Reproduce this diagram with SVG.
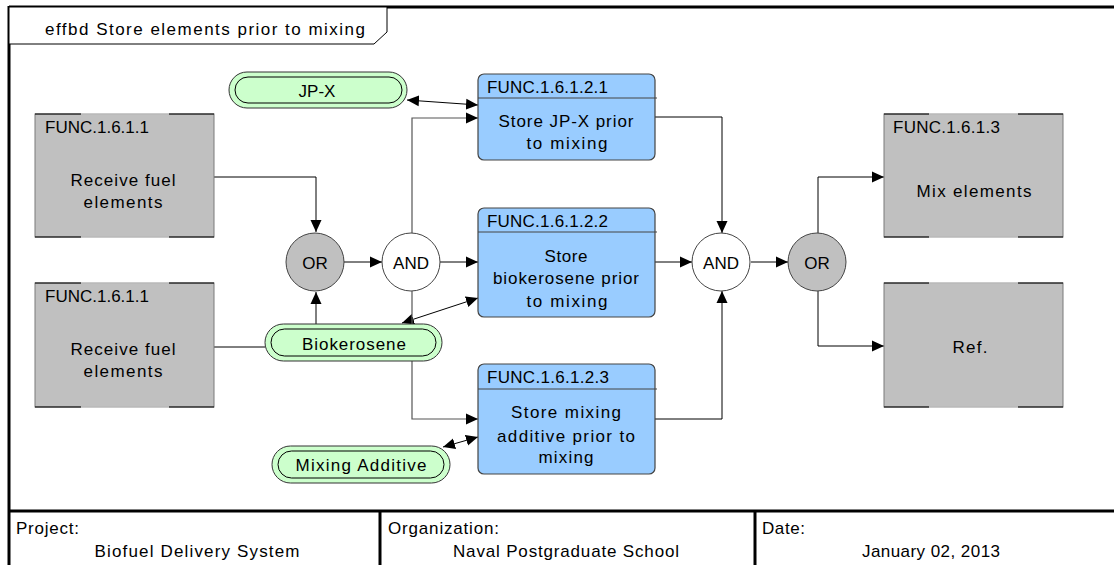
<svg xmlns="http://www.w3.org/2000/svg" width="1114" height="565" viewBox="0 0 1114 565">
<style>
text{font-family:"Liberation Sans",Arial,sans-serif;font-size:17px;fill:#000}
.c{text-anchor:middle}
.gray{fill:#c0c0c0;stroke:#7a7a7a;stroke-width:1}
.corner{stroke:#000;stroke-width:1.2;fill:none}
.light{stroke:#d8d8d8;stroke-width:1.2}
.blue{fill:#99ccff;stroke:#444;stroke-width:1.2}
.hdr{stroke:#444;stroke-width:1}
.pill{fill:#ccffcc;stroke:#333;stroke-width:1}
.pin{fill:none;stroke:#000;stroke-width:1}
.gor{fill:#c0c0c0;stroke:#444;stroke-width:1}
.gand{fill:#fff;stroke:#444;stroke-width:1}
.ln{fill:none;stroke:#000;stroke-width:1}
.lg{fill:none;stroke:#555;stroke-width:1.2}
.frame{stroke:#000;stroke-width:3;fill:none}
</style>
<defs>
<marker id="ah" markerUnits="userSpaceOnUse" markerWidth="13" markerHeight="12" refX="12" refY="6" orient="auto-start-reverse">
<path d="M0,0.5 L12,6 L0,11.5 z" fill="#000"/>
</marker>
</defs>
<rect x="0" y="0" width="1114" height="565" fill="#fff"/>

<g id="frame">
<line class="frame" x1="9" y1="7" x2="1114" y2="7"/>
<line class="frame" x1="9" y1="6" x2="9" y2="565"/>
<line class="frame" x1="9" y1="511" x2="1114" y2="511"/>
<line class="frame" x1="380" y1="511" x2="380" y2="565"/>
<line class="frame" x1="755" y1="511" x2="755" y2="565"/>
<polygon points="9,7 387,7 387,32 374,44 9,44" fill="#fff" stroke="#000" stroke-width="1"/>
<text x="45" y="35" textLength="320" lengthAdjust="spacing">effbd Store elements prior to mixing</text>
</g>

<g id="footer">
<text x="16" y="534" textLength="63" lengthAdjust="spacing">Project:</text>
<text class="c" x="197" y="557" textLength="205" lengthAdjust="spacing">Biofuel Delivery System</text>
<text x="388" y="534" textLength="111" lengthAdjust="spacing">Organization:</text>
<text class="c" x="566" y="557" textLength="226" lengthAdjust="spacing">Naval Postgraduate School</text>
<text x="762" y="534" textLength="43" lengthAdjust="spacing">Date:</text>
<text class="c" x="931" y="557" textLength="138" lengthAdjust="spacing">January 02, 2013</text>
</g>

<g id="connectors">
<polyline class="ln" points="214,177 316,177 316,232" marker-end="url(#ah)"/>
<line class="ln" x1="214" y1="347" x2="265" y2="347"/>
<line class="ln" x1="316" y1="324" x2="316" y2="292" marker-end="url(#ah)"/>
<line class="ln" x1="344" y1="262" x2="382" y2="262" marker-end="url(#ah)"/>
<line class="ln" x1="440" y1="262" x2="478" y2="262" marker-end="url(#ah)"/>
<polyline class="lg" points="412,233 412,118 478,118" marker-end="url(#ah)"/>
<line class="ln" x1="407" y1="100" x2="478" y2="105" marker-start="url(#ah)" marker-end="url(#ah)"/>
<line class="ln" x1="402" y1="323" x2="478" y2="298" marker-start="url(#ah)" marker-end="url(#ah)"/>
<polyline class="lg" points="412,291 412,419 478,419" marker-end="url(#ah)"/>
<line class="ln" x1="443" y1="447" x2="478" y2="437" marker-start="url(#ah)" marker-end="url(#ah)"/>
<polyline class="ln" points="655,117 722,117 722,233" marker-end="url(#ah)"/>
<line class="ln" x1="655" y1="262" x2="692" y2="262" marker-end="url(#ah)"/>
<polyline class="ln" points="655,419 722,419 722,291" marker-end="url(#ah)"/>
<line class="ln" x1="751" y1="262" x2="788" y2="262" marker-end="url(#ah)"/>
<polyline class="ln" points="818,233 818,177 884,177" marker-end="url(#ah)"/>
<polyline class="ln" points="818,291 818,346 884,346" marker-end="url(#ah)"/>
</g>

<g id="recv1">
<rect class="gray" x="35" y="114" width="179" height="123"/>
<path class="corner" d="M35,114 H81 M169,114 H214 M35,237 H81 M169,237 H214"/>
<path class="light" d="M81,114 H169 M81,237 H169"/>
<text x="45" y="133" textLength="104" lengthAdjust="spacing">FUNC.1.6.1.1</text>
<text class="c" x="123" y="186" textLength="105" lengthAdjust="spacing">Receive fuel</text>
<text class="c" x="123" y="208" textLength="79" lengthAdjust="spacing">elements</text>
</g>

<g id="recv2">
<rect class="gray" x="35" y="283" width="179" height="124"/>
<path class="corner" d="M35,283 H81 M169,283 H214 M35,407 H81 M169,407 H214"/>
<path class="light" d="M81,283 H169 M81,407 H169"/>
<text x="45" y="302" textLength="104" lengthAdjust="spacing">FUNC.1.6.1.1</text>
<text class="c" x="123" y="355" textLength="105" lengthAdjust="spacing">Receive fuel</text>
<text class="c" x="123" y="377" textLength="79" lengthAdjust="spacing">elements</text>
</g>

<g id="mix">
<rect class="gray" x="884" y="114" width="179" height="123"/>
<path class="corner" d="M884,114 H929 M1018,114 H1063 M884,237 H929 M1018,237 H1063"/>
<path class="light" d="M929,114 H1018 M929,237 H1018"/>
<text x="893" y="133" textLength="107" lengthAdjust="spacing">FUNC.1.6.1.3</text>
<text class="c" x="974" y="197" textLength="115" lengthAdjust="spacing">Mix elements</text>
</g>

<g id="ref">
<rect class="gray" x="884" y="283" width="179" height="124"/>
<path class="corner" d="M884,283 H929 M1018,283 H1063 M884,407 H929 M1018,407 H1063"/>
<path class="light" d="M929,283 H1018 M929,407 H1018"/>
<text class="c" x="970" y="353" textLength="35" lengthAdjust="spacing">Ref.</text>
</g>

<g id="or1">
<circle class="gor" cx="315" cy="262" r="29"/>
<text class="c" x="315" y="269">OR</text>
</g>
<g id="and1">
<circle class="gand" cx="411" cy="262" r="29"/>
<text class="c" x="411" y="269">AND</text>
</g>
<g id="and2">
<circle class="gand" cx="721" cy="262" r="29"/>
<text class="c" x="721" y="269">AND</text>
</g>
<g id="or2">
<circle class="gor" cx="817" cy="262" r="29"/>
<text class="c" x="817" y="269">OR</text>
</g>

<g id="store1">
<rect class="blue" x="478" y="74" width="177" height="86" rx="6"/>
<line class="hdr" x1="478" y1="98" x2="657" y2="98"/>
<text x="487" y="93" textLength="121" lengthAdjust="spacing">FUNC.1.6.1.2.1</text>
<text class="c" x="566" y="127" textLength="135" lengthAdjust="spacing">Store JP-X prior</text>
<text class="c" x="567" y="149" textLength="81" lengthAdjust="spacing">to mixing</text>
</g>

<g id="store2">
<rect class="blue" x="478" y="208" width="177" height="109" rx="6"/>
<line class="hdr" x1="478" y1="232" x2="657" y2="232"/>
<text x="487" y="227" textLength="121" lengthAdjust="spacing">FUNC.1.6.1.2.2</text>
<text class="c" x="566" y="262" textLength="43" lengthAdjust="spacing">Store</text>
<text class="c" x="566" y="284" textLength="146" lengthAdjust="spacing">biokerosene prior</text>
<text class="c" x="567" y="307" textLength="81" lengthAdjust="spacing">to mixing</text>
</g>

<g id="store3">
<rect class="blue" x="478" y="364" width="177" height="110" rx="6"/>
<line class="hdr" x1="478" y1="389" x2="657" y2="389"/>
<text x="487" y="383" textLength="122" lengthAdjust="spacing">FUNC.1.6.1.2.3</text>
<text class="c" x="566" y="418" textLength="110" lengthAdjust="spacing">Store mixing</text>
<text class="c" x="566" y="442" textLength="138" lengthAdjust="spacing">additive prior to</text>
<text class="c" x="566" y="463" textLength="55" lengthAdjust="spacing">mixing</text>
</g>

<g id="jpx">
<rect class="pill" x="229" y="72" width="178" height="36" rx="18"/>
<rect class="pin" x="235" y="77" width="167" height="26" rx="13"/>
<text class="c" x="317" y="97">JP-X</text>
</g>

<g id="biokerosene">
<rect class="pill" x="265" y="324" width="177" height="37" rx="18.5"/>
<rect class="pin" x="271" y="329" width="165" height="27" rx="13.5"/>
<text class="c" x="354" y="350" textLength="104" lengthAdjust="spacing">Biokerosene</text>
</g>

<g id="additive">
<rect class="pill" x="272" y="446" width="178" height="37" rx="18.5"/>
<rect class="pin" x="278" y="451" width="166" height="27" rx="13.5"/>
<text class="c" x="361" y="471" textLength="131" lengthAdjust="spacing">Mixing Additive</text>
</g>
</svg>
